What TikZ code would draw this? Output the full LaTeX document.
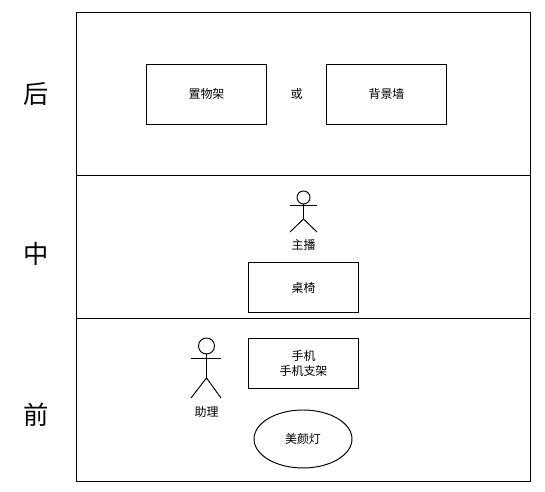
\documentclass[tikz,border=0pt]{standalone}
\usepackage{fontspec}
\setmainfont{Noto Sans CJK SC}
\usetikzlibrary{shapes.geometric}
\tikzset{
  zone/.style={draw, line width=0.55pt, minimum width=9.08cm, inner sep=0pt, outer sep=0pt, anchor=north west},
  prop/.style={draw, line width=0.55pt, inner sep=0pt, outer sep=0pt, align=center, font=\fontsize{6.8}{8}\selectfont},
  tag/.style={inner sep=0pt, align=center, font=\fontsize{6.8}{8}\selectfont},
  side/.style={inner sep=0pt, font=\fontsize{14.4}{16}\selectfont},
  stick/.style={line width=0.55pt},
}
\begin{document}
\begin{tikzpicture}[x=0.02cm, y=-0.02cm]
        \useasboundingbox (0,0) rectangle (545,492);

        % three zones
        \node[zone, minimum height=3.26cm] (back) at (76.5,12.5) {};
        \node[zone, minimum height=2.86cm] (middle) at (76.5,175.5) {};
        \node[zone, minimum height=3.26cm] (front) at (76.5,318.5) {};

        \node[side] (backtag) at (36.5,94.5) {后};
        \node[side] (middletag) at (36.5,253.5) {中};
        \node[side] (fronttag) at (36.5,414.5) {前};

        % back
        \node[prop, minimum width=2.4cm, minimum height=1.2cm] (shelf) at (206.5,94) {置物架};
        \node[prop, minimum width=2.4cm, minimum height=1.2cm] (wall) at (386.5,94) {背景墙};
        \node[tag] (orword) at (296.5,94) {或};

        % middle
        \draw[stick] (303.5,197.5) circle (6.5);
        \draw[stick] (303.5,204) -- (303.5,219);
        \draw[stick] (290,205.5) -- (317,205.5);
        \draw[stick] (290,232) -- (303.5,219) -- (317,232);
        \node[tag] (host) at (303.5,245) {主播};
        \node[prop, minimum width=2.2cm, minimum height=1cm] (desk) at (303.5,287.5) {桌椅};

        % front
        \draw[stick] (206.5,346) circle (8);
        \draw[stick] (206.5,354) -- (206.5,378);
        \draw[stick] (191,358) -- (221,358);
        \draw[stick] (191,398) -- (206.5,378) -- (221,398);
        \node[tag] (helper) at (206.5,412) {助理};
        \node[prop, minimum width=2.2cm, minimum height=1cm] (phone) at (303.5,363.5) {手机\\手机支架};
        \node[prop, ellipse, minimum width=1.96cm, minimum height=1.16cm] (lamp) at (303,439) {美颜灯};
      \end{tikzpicture}
\end{document}
